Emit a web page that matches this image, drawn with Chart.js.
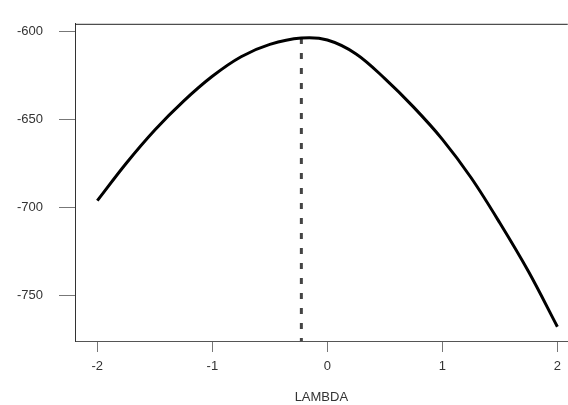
<!DOCTYPE html>
<html>
<head>
<meta charset="utf-8">
<script src="https://cdn.jsdelivr.net/npm/chart.js@4/dist/chart.umd.min.js"></script>
<style>
  html, body { margin: 0; padding: 0; background: #fff; }
  #wrap { width: 568px; height: 405px; position: relative; }
</style>
</head>
<body>
<div id="wrap"><canvas id="c" width="568" height="405"></canvas></div>
<script>
// Box-Cox profile: lambda vs log-likelihood
const lambdas = [-2, -1.75, -1.5, -1.25, -1, -0.75, -0.5, -0.226, 0, 0.25, 0.5, 0.75, 1, 1.25, 1.5, 1.75, 2];
const logLik  = [-695.9, -674.8, -655.8, -639.4, -625.3, -614.2, -607.2, -603.6, -604.7, -612.6, -626.6, -642.8, -661.1, -682.9, -708.6, -736.3, -767.5];
const peakLambda = -0.226;
const peakLogLik = -603.6;
const xTicks = [-2, -1, 0, 1, 2];
const yTicks = [-600, -650, -700, -750];
const xRange = [-2.194, 2.09];
const yRange = [-775.6, -595.5];
const xTitle = 'LAMBDA';

Chart.defaults.font.family = '"Liberation Sans", Arial, sans-serif';
Chart.defaults.font.size = 13;
Chart.defaults.color = '#333';

const curve = lambdas.map((x, i) => ({ x: x, y: logLik[i] }));
const vline = [{ x: peakLambda, y: peakLogLik }, { x: peakLambda, y: yRange[0] }];

const topBorder = {
  id: 'topBorder',
  afterDraw(chart) {
    const a = chart.chartArea, ctx = chart.ctx;
    ctx.save();
    ctx.strokeStyle = '#222';
    ctx.lineWidth = 1;
    ctx.beginPath();
    ctx.moveTo(a.left, a.top + 0.5);
    ctx.lineTo(a.right, a.top + 0.5);
    ctx.stroke();
    ctx.restore();
  }
};

new Chart(document.getElementById('c'), {
  type: 'line',
  data: {
    datasets: [
      { data: curve, borderColor: '#000', borderWidth: 3, pointRadius: 0, tension: 0.35, fill: false },
      { data: vline, borderColor: '#444', borderWidth: 3, borderDash: [6, 9], pointRadius: 0, tension: 0, fill: false }
    ]
  },
  options: {
    responsive: false,
    animation: false,
    devicePixelRatio: 1,
    layout: { padding: { top: 17, right: 0, left: 0, bottom: 0 } },
    plugins: { legend: { display: false }, tooltip: { enabled: false } },
    scales: {
      x: {
        type: 'linear',
        min: xRange[0], max: xRange[1],
        afterFit(s) { s.height = 64; },
        afterBuildTicks(s) { s.ticks = xTicks.map(v => ({ value: v })); },
        grid: { drawOnChartArea: false, drawTicks: true, tickLength: 11, color: '#777', lineWidth: 1 },
        border: { display: true, color: '#555', width: 1 },
        ticks: { padding: 7, maxRotation: 0, autoSkip: false, color: '#333', callback: v => String(v) },
        title: { display: true, text: xTitle, color: '#333', font: { size: 13 }, padding: { top: 0, bottom: 0 } }
      },
      y: {
        type: 'linear',
        min: yRange[0], max: yRange[1],
        afterFit(s) { s.width = 75; },
        afterBuildTicks(s) { s.ticks = yTicks.map(v => ({ value: v })); },
        grid: { drawOnChartArea: false, drawTicks: true, tickLength: 16, color: '#777', lineWidth: 1 },
        border: { display: true, color: '#333', width: 1 },
        ticks: { padding: 16, autoSkip: false, color: '#333', callback: v => String(v) }
      }
    }
  },
  plugins: [topBorder]
});
</script>
</body>
</html>
